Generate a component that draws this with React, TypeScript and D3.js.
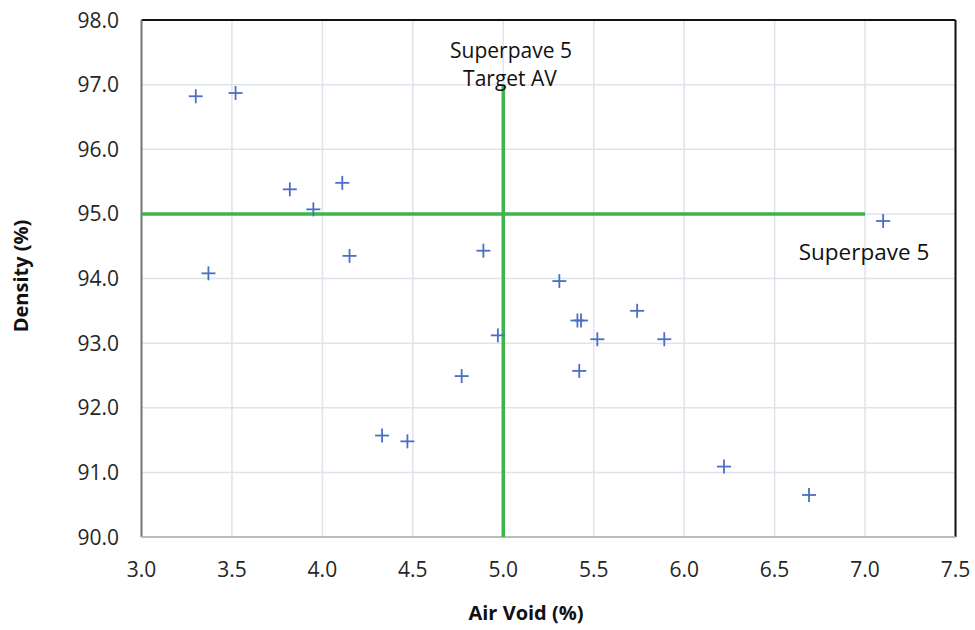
import React from "react";
import * as d3 from "d3";

const airVoid = [3.30, 3.52, 3.82, 4.11, 3.95, 4.15, 3.37, 4.89, 7.10, 5.31, 5.41, 5.43, 5.74, 5.52, 5.89, 4.97, 4.77, 5.42, 6.22, 6.69, 4.33, 4.47];
const density = [96.82, 96.87, 95.38, 95.48, 95.07, 94.35, 94.08, 94.43, 94.89, 93.96, 93.35, 93.35, 93.50, 93.06, 93.06, 93.12, 92.49, 92.57, 91.09, 90.65, 91.57, 91.48];
const xTicks = [3.0, 3.5, 4.0, 4.5, 5.0, 5.5, 6.0, 6.5, 7.0, 7.5];
const yTicks = [90, 91, 92, 93, 94, 95, 96, 97, 98];
const targetDensity = 95;
const targetDensityXRange = [3.0, 7.0];
const targetAV = 5.0;
const targetAVYRange = [90, 97];

const W = 975, H = 630;
const FONT = "'Open Sans', 'Noto Sans', sans-serif";

export default function App() {
  const x = d3.scaleLinear().domain([3.0, 7.5]).range([141.5, 955.5]);
  const y = d3.scaleLinear().domain([90, 98]).range([537, 20]);
  const green = "#3db54a";
  return (
    <svg width={W} height={H} style={{ position: "absolute", left: 0, top: 0, background: "#fff" }} fontFamily={FONT}>
      {xTicks.map((t) => (
        <line key={"gx" + t} x1={x(t)} x2={x(t)} y1={y(98)} y2={y(90)} stroke="#dfe3ea" strokeWidth={1.5} />
      ))}
      {yTicks.map((t) => (
        <line key={"gy" + t} x1={x(3)} x2={x(7.5)} y1={y(t)} y2={y(t)} stroke="#dfe3ea" strokeWidth={1.5} />
      ))}
      {/* borders */}
      <line x1={x(3)} x2={x(7.5)} y1={y(98)} y2={y(98)} stroke="#111" strokeWidth={2} />
      <line x1={x(7.5)} x2={x(7.5)} y1={y(98)} y2={y(90)} stroke="#111" strokeWidth={2} />
      <line x1={x(3)} x2={x(3)} y1={y(98)} y2={y(90)} stroke="#777" strokeWidth={2} />
      <line x1={x(3)} x2={x(7.5)} y1={y(90)} y2={y(90)} stroke="#bbb" strokeWidth={2} />
      {/* target lines */}
      <line x1={x(targetDensityXRange[0])} x2={x(targetDensityXRange[1])} y1={y(targetDensity)} y2={y(targetDensity)} stroke={green} strokeWidth={3.5} />
      <line x1={x(targetAV)} x2={x(targetAV)} y1={y(targetAVYRange[0])} y2={y(targetAVYRange[1])} stroke={green} strokeWidth={3.5} />
      {/* points */}
      {airVoid.map((v, i) => {
        const cx = x(v), cy = y(density[i]);
        return (
          <g key={"p" + i} stroke="#4a6fc4" strokeWidth={1.8}>
            <line x1={cx - 7} x2={cx + 7} y1={cy} y2={cy} />
            <line x1={cx} x2={cx} y1={cy - 7} y2={cy + 7} />
          </g>
        );
      })}
      {/* tick labels */}
      {xTicks.map((t) => (
        <text key={"tx" + t} x={x(t)} y={577} textAnchor="middle" fontSize={21} fill="#262626">{t.toFixed(1)}</text>
      ))}
      {yTicks.map((t) => (
        <text key={"ty" + t} x={119} y={y(t) + 7.5} textAnchor="end" fontSize={21} fill="#262626">{t.toFixed(1)}</text>
      ))}
      {/* annotations */}
      <text x={511} y={58} textAnchor="middle" fontSize={21} fill="#111">Superpave 5</text>
      <text x={510} y={86} textAnchor="middle" fontSize={21} fill="#111">Target AV</text>
      <text x={864} y={260} textAnchor="middle" fontSize={22.5} fill="#111">Superpave 5</text>
      {/* axis titles */}
      <text x={526} y={620} textAnchor="middle" fontSize={20} fontWeight="bold" fill="#111">Air Void (%)</text>
      <text transform={`translate(28,276) rotate(-90)`} textAnchor="middle" fontSize={20} fontWeight="bold" fill="#111">Density (%)</text>
    </svg>
  );
}
